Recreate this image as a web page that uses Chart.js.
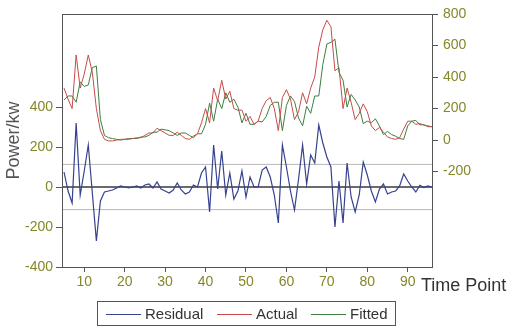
<!DOCTYPE html>
<html>
<head>
<meta charset="utf-8">
<script src="https://cdn.jsdelivr.net/npm/chart.js@4.4.0/dist/chart.umd.min.js"></script>
<style>
  body { margin: 0; background: #fff; }
  #wrap { position: relative; width: 515px; height: 330px; font-family: "Liberation Sans", Arial, sans-serif; }
  #chart { position: absolute; left: 0; top: 0; }
  .xtitle { position: absolute; left: 421px; top: 275px; font-size: 18px; color: #333; white-space: nowrap; }
  #legend { position: absolute; left: 97px; top: 301px; width: 299px; height: 25px; border: 1px solid #555; box-sizing: border-box; }
  .item { position: absolute; top: 4px; font-size: 15px; color: #333; line-height: 16px; white-space: nowrap; }
  .ln { position: absolute; top: 12px; width: 35px; height: 1px; }
</style>
</head>
<body>
<div id="wrap">
  <canvas id="chart" width="515" height="330"></canvas>
  <div class="xtitle">Time Point</div>
  <div id="legend">
    <div class="ln" style="left:8px; background:#36428e"></div>
    <div class="item" style="left:47px">Residual</div>
    <div class="ln" style="left:119px; background:#c84a4a"></div>
    <div class="item" style="left:158px">Actual</div>
    <div class="ln" style="left:213px; background:#3f7d3f"></div>
    <div class="item" style="left:252px">Fitted</div>
  </div>
</div>
<script>
// time points on the x axis
const timePoints = [5,6,7,8,9,10,11,12,13,14,15,16,17,18,19,20,21,22,23,24,25,26,27,28,29,30,
  31,32,33,34,35,36,37,38,39,40,41,42,43,44,45,46,47,48,49,50,51,52,53,54,55,56,57,58,59,60,
  61,62,63,64,65,66,67,68,69,70,71,72,73,74,75,76,77,78,79,80,81,82,83,84,85,86,87,88,89,90,
  91,92,93,94,95,96];

// actual power (right axis)
const actual = [330,260,200,540,330,420,540,430,200,60,5,-5,-5,0,5,5,5,10,15,15,30,45,45,75,60,45,
  30,30,50,30,10,5,25,40,110,200,110,330,250,380,260,310,200,190,190,120,150,100,120,200,250,270,
  200,60,270,320,260,130,180,300,230,330,400,590,700,760,720,440,460,200,330,240,130,170,230,180,
  90,60,80,50,20,10,5,15,70,120,120,100,105,95,90,85];

// fitted power (right axis)
const fitted = [255,280,280,240,370,340,350,460,470,130,30,15,10,5,0,5,10,10,10,20,20,30,50,50,70,65,
  60,45,30,45,45,30,15,40,40,100,235,120,260,200,300,240,260,210,110,170,100,100,120,115,150,220,
  240,240,60,220,280,245,140,90,215,170,280,280,480,610,620,640,430,380,210,290,255,210,105,120,
  110,135,90,35,55,35,25,10,5,90,120,125,97,98,85,85];

// residual (left axis)
const residual = [75,-20,-80,320,-40,80,210,-30,-270,-70,-25,-20,-15,-5,5,0,-5,0,5,-5,10,15,-5,25,-10,-20,
  -30,-15,20,-15,-35,-25,10,0,70,100,-125,210,-10,180,-40,70,-60,-20,80,-50,50,0,0,85,100,50,
  -40,-180,210,100,-20,-115,40,210,15,160,120,310,220,150,100,-200,30,-180,120,-50,-125,-40,125,60,
  -20,-75,-10,15,-35,-25,-20,5,65,30,0,-25,8,-3,5,0];

// +/- one standard error band of the residual and the zero line
const stdBand = 113;
const bandLevels = [stdBand, -stdBand];

// tick labels
const xTicks = [10,20,30,40,50,60,70,80,90];
const leftTicks = [-400,-200,0,200,400];
const rightTicks = [-200,0,200,400,600,800];

const xMin = 4.5, xMax = 96;
const tickColor = '#86862a';
const frameColor = '#555';

const pts = arr => arr.map((v, i) => ({ x: timePoints[i], y: v }));
const hline = v => [{ x: xMin, y: v }, { x: xMax, y: v }];

const datasets = [
  { label: 'Residual', data: pts(residual), yAxisID: 'yL', borderColor: '#36428e', borderWidth: 1.2 },
  { label: 'Actual', data: pts(actual), yAxisID: 'yR', borderColor: '#c84a4a', borderWidth: 1 },
  { label: 'Fitted', data: pts(fitted), yAxisID: 'yR', borderColor: '#3f7d3f', borderWidth: 1 },
  { label: 'zero', data: hline(0), yAxisID: 'yL', borderColor: '#3a3a3a', borderWidth: 1.3, order: 5 }
];
bandLevels.forEach(v => datasets.push(
  { label: 'band', data: hline(v), yAxisID: 'yL', borderColor: '#b8b8b8', borderWidth: 1, order: 6 }
));

// draws the box round the plot area
const framePlugin = {
  id: 'frame',
  afterDraw(chart) {
    const a = chart.chartArea, ctx = chart.ctx;
    ctx.save();
    ctx.strokeStyle = frameColor;
    ctx.lineWidth = 1;
    ctx.strokeRect(a.left + 0.5, a.top + 0.5, a.right - a.left, a.bottom - a.top);
    ctx.restore();
  }
};

const fixTicks = list => scale => { scale.ticks = list.map(v => ({ value: v })); };

const tickFont = { family: '"Liberation Sans", Arial, sans-serif', size: 14 };

new Chart(document.getElementById('chart'), {
  type: 'line',
  data: { datasets },
  plugins: [framePlugin],
  options: {
    responsive: false,
    animation: false,
    devicePixelRatio: 1,
    layout: { padding: { top: 14, left: 0, right: 0, bottom: 0 } },
    elements: { point: { radius: 0 }, line: { tension: 0 } },
    plugins: { legend: { display: false }, tooltip: { enabled: false } },
    scales: {
      x: {
        type: 'linear', min: xMin, max: xMax,
        afterBuildTicks: fixTicks(xTicks),
        afterFit: s => { s.height = 63; },
        grid: { drawOnChartArea: false, tickLength: 5, tickColor: frameColor },
        border: { color: frameColor },
        ticks: { color: tickColor, font: tickFont, padding: 2, maxRotation: 0 }
      },
      yL: {
        position: 'left', min: -400, max: 865,
        afterBuildTicks: fixTicks(leftTicks),
        afterFit: s => { s.width = 62; },
        grid: { drawOnChartArea: false, tickLength: 6, tickColor: frameColor },
        border: { color: frameColor },
        ticks: { color: tickColor, font: tickFont, padding: 3 },
        title: { display: true, text: 'Power/kw', color: '#555',
          font: { family: '"Liberation Sans", Arial, sans-serif', size: 18 }, padding: { top: 3, bottom: 3 } }
      },
      yR: {
        position: 'right', min: -805, max: 800,
        afterBuildTicks: fixTicks(rightTicks),
        afterFit: s => { s.width = 83; },
        grid: { drawOnChartArea: false, tickLength: 6, tickColor: frameColor },
        border: { color: frameColor },
        ticks: { color: tickColor, font: tickFont, padding: 5 }
      }
    }
  }
});
</script>
</body>
</html>
